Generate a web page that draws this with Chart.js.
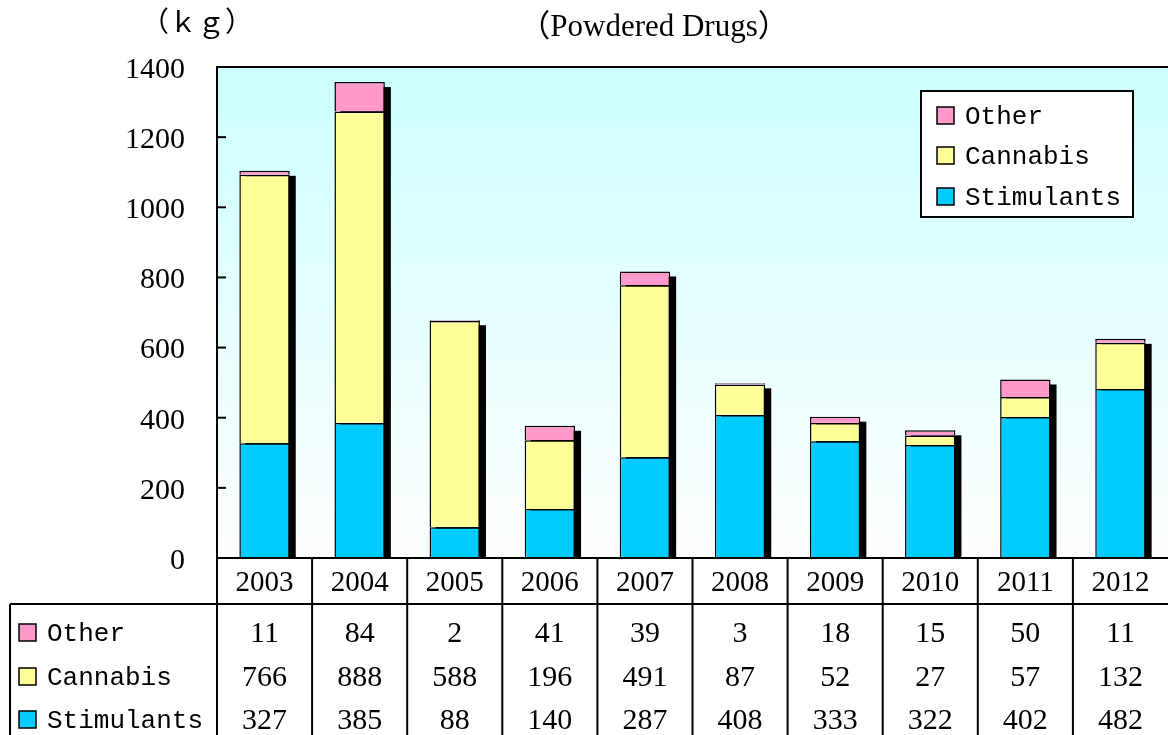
<!DOCTYPE html>
<html>
<head>
<meta charset="utf-8">
<script src="https://cdn.jsdelivr.net/npm/chart.js@4.4.1/dist/chart.umd.min.js"></script>
<style>
  html, body { margin: 0; padding: 0; background: #fff; }
  #wrap { width: 1168px; height: 735px; position: relative; }
</style>
</head>
<body>
<div id="wrap"><canvas id="drugChart" width="1168" height="735"></canvas></div>
<script>
  const years = ['2003', '2004', '2005', '2006', '2007', '2008', '2009', '2010', '2011', '2012'];
  const stimulants = [327, 385, 88, 140, 287, 408, 333, 322, 402, 482];
  const cannabis = [766, 888, 588, 196, 491, 87, 52, 27, 57, 132];
  const other = [11, 84, 2, 41, 39, 3, 18, 15, 50, 11];
  const seriesNames = ['Stimulants', 'Cannabis', 'Other'];
  const seriesColors = ['#00CCFF', '#FFFF99', '#FF99CC'];
  const unitLabel = '（ｋｇ）';
  const titleText = '（Powdered Drugs）';

  const serif = '"Liberation Serif", "Times New Roman", serif';
  const mono = '"Liberation Mono", "DejaVu Sans Mono", monospace';

  // background gradient, shadows behind each stack
  const decorPlugin = {
    id: 'decor',
    beforeDraw(chart) {
      const { ctx, chartArea: a } = chart;
      const g = ctx.createLinearGradient(0, a.top, 0, a.bottom);
      g.addColorStop(0, '#CCFFFF');
      g.addColorStop(1, '#FFFFFF');
      ctx.save();
      ctx.fillStyle = g;
      ctx.fillRect(a.left, a.top, a.right - a.left, a.bottom - a.top);
      ctx.restore();
    },
    beforeDatasetsDraw(chart) {
      const { ctx, chartArea: a } = chart;
      const topMeta = chart.getDatasetMeta(chart.data.datasets.length - 1);
      const base = chart.scales.y.getPixelForValue(0);
      ctx.save();
      ctx.beginPath();
      ctx.rect(a.left, a.top, a.right - a.left, a.bottom - a.top);
      ctx.clip();
      ctx.fillStyle = '#000';
      topMeta.data.forEach(el => {
        const w = el.width;
        ctx.fillRect(el.x - w / 2 + 6, el.y + 5, w, base - el.y - 5);
      });
      ctx.restore();
    },
    afterDraw(chart) {
      const { ctx, chartArea: a } = chart;
      const xs = chart.scales.x;
      const ys = chart.scales.y;
      const colW = xs.getPixelForValue(1) - xs.getPixelForValue(0);
      const H = chart.height;
      ctx.save();
      ctx.strokeStyle = '#000';
      ctx.lineWidth = 2;

      // plot frame
      ctx.beginPath();
      ctx.moveTo(a.left, a.bottom);
      ctx.lineTo(a.left, a.top);
      ctx.lineTo(a.right, a.top);
      ctx.moveTo(a.left, a.bottom);
      ctx.lineTo(a.right, a.bottom);
      ctx.stroke();

      // inward ticks
      ys.ticks.forEach(t => {
        const y = ys.getPixelForValue(t.value);
        ctx.beginPath();
        ctx.moveTo(a.left, y);
        ctx.lineTo(a.left + 9, y);
        ctx.stroke();
      });

      // data table grid
      const rowTop = a.bottom + 46;
      ctx.beginPath();
      ctx.moveTo(10, rowTop);
      ctx.lineTo(a.right, rowTop);
      ctx.moveTo(10, rowTop);
      ctx.lineTo(10, H);
      for (let i = 0; i < years.length; i++) {
        const x = xs.getPixelForValue(i) - colW / 2;
        ctx.moveTo(x, a.bottom);
        ctx.lineTo(x, H);
      }
      ctx.stroke();

      // year row
      ctx.fillStyle = '#000';
      ctx.textAlign = 'center';
      ctx.textBaseline = 'middle';
      ctx.font = '29px ' + serif;
      years.forEach((yr, i) => ctx.fillText(yr, xs.getPixelForValue(i), a.bottom + 25));

      // value rows, top series first
      const rowYs = [633, 677, 720];
      const order = [2, 1, 0];
      order.forEach((d, r) => {
        const ds = chart.data.datasets[d];
        const y = rowYs[r];
        ctx.fillStyle = ds.backgroundColor;
        ctx.fillRect(19, y - 9, 17, 17);
        ctx.lineWidth = 1.5;
        ctx.strokeRect(19, y - 9, 17, 17);
        ctx.fillStyle = '#000';
        ctx.textAlign = 'left';
        ctx.font = '26px ' + mono;
        ctx.fillText(ds.label, 47, y + 1);
        ctx.textAlign = 'center';
        ctx.font = '30px ' + serif;
        ds.data.forEach((v, i) => ctx.fillText(String(v), xs.getPixelForValue(i), y + 1));
      });

      // legend box inside the plot
      const lx = 921, ly = 91, lw = 212, lh = 126;
      ctx.fillStyle = '#fff';
      ctx.fillRect(lx, ly, lw, lh);
      ctx.lineWidth = 2;
      ctx.strokeRect(lx, ly, lw, lh);
      const legYs = [116, 156, 197];
      order.forEach((d, r) => {
        const ds = chart.data.datasets[d];
        const y = legYs[r];
        ctx.fillStyle = ds.backgroundColor;
        ctx.fillRect(937, y - 9, 17, 17);
        ctx.lineWidth = 1.5;
        ctx.strokeRect(937, y - 9, 17, 17);
        ctx.fillStyle = '#000';
        ctx.textAlign = 'left';
        ctx.font = '26px ' + mono;
        ctx.fillText(ds.label, 965, y + 1);
      });

      // unit and title
      ctx.textAlign = 'center';
      ctx.font = '28px ' + serif + ', "Noto Sans CJK JP"';
      ctx.fillText(unitLabel, 197, 25);
      ctx.font = '31px ' + serif + ', "Noto Sans CJK JP"';
      ctx.fillText(titleText, 654, 28);
      ctx.restore();
    }
  };

  const values = [stimulants, cannabis, other];
  const ctx = document.getElementById('drugChart').getContext('2d');
  new Chart(ctx, {
    type: 'bar',
    data: {
      labels: years,
      datasets: seriesNames.map((name, i) => ({
        label: name,
        data: values[i],
        backgroundColor: seriesColors[i],
        borderColor: '#000',
        borderWidth: 1.5,
        categoryPercentage: 1,
        barPercentage: 0.53
      }))
    },
    options: {
      responsive: false,
      animation: false,
      devicePixelRatio: 1,
      layout: { padding: { top: 67, bottom: 177, left: 0, right: 0 } },
      plugins: { legend: { display: false }, tooltip: { enabled: false }, title: { display: false } },
      scales: {
        x: { stacked: true, display: false },
        y: {
          stacked: true,
          min: 0,
          max: 1400,
          border: { display: false },
          grid: { display: false },
          ticks: {
            stepSize: 200, padding: 24, labelOffset: 3, color: '#000',
            font: { family: serif, size: 30 },
            callback: v => String(v)
          },
          afterFit(scale) { scale.width = 217; }
        }
      }
    },
    plugins: [decorPlugin]
  });
</script>
</body>
</html>
